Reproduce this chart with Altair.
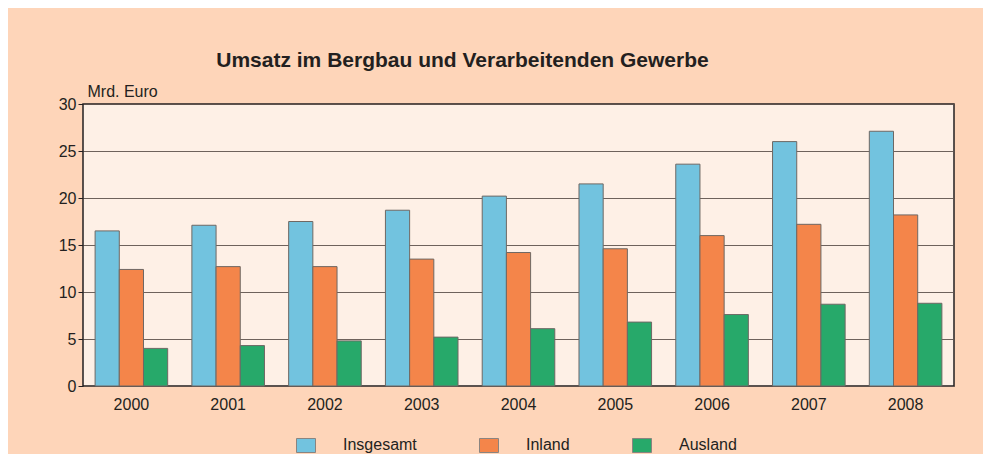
import altair as alt
import pandas as pd

years = ["2000", "2001", "2002", "2003", "2004", "2005", "2006", "2007", "2008"]
series = ["Insgesamt", "Inland", "Ausland"]
insgesamt = [16.5, 17.1, 17.5, 18.7, 20.2, 21.5, 23.6, 26.0, 27.1]
inland = [12.4, 12.7, 12.7, 13.5, 14.2, 14.6, 16.0, 17.2, 18.2]
ausland = [4.0, 4.3, 4.8, 5.2, 6.1, 6.8, 7.6, 8.7, 8.8]
colors = ["#72C3DF", "#F4854A", "#27A96A"]
y_ticks = [0, 5, 10, 15, 20, 25, 30]

rows = []
for i, yr in enumerate(years):
    for s, vals in zip(series, [insgesamt, inland, ausland]):
        rows.append({"Jahr": yr, "Reihe": s, "Wert": vals[i]})
df = pd.DataFrame(rows)

font = "Liberation Sans"
txt = "#231f20"

chart = alt.Chart(df).mark_bar(stroke="#6e6864", strokeWidth=1).encode(
    x=alt.X("Jahr:N", sort=years,
            scale=alt.Scale(paddingInner=0.25, paddingOuter=0.125),
            axis=alt.Axis(title=None, labelAngle=0, ticks=False, domain=False,
                          labelPadding=10, labelFontSize=16, labelFont=font,
                          labelColor=txt, grid=False)),
    xOffset=alt.XOffset("Reihe:N", sort=series,
                        scale=alt.Scale(paddingInner=0, paddingOuter=0)),
    y=alt.Y("Wert:Q", scale=alt.Scale(domain=[0, 30]),
            axis=alt.Axis(values=y_ticks, title="Mrd. Euro", titleAngle=0,
                          titleX=4, titleY=-8, titleAlign="left",
                          titleBaseline="alphabetic", titleFontSize=16,
                          titleFontWeight="normal", titleFont=font, titleColor=txt,
                          labelFontSize=16, labelFont=font, labelColor=txt,
                          labelPadding=2, tickSize=5, tickColor=txt, domain=False,
                          gridColor="#5e524c", gridWidth=1, gridOpacity=0.9)),
    color=alt.Color("Reihe:N", sort=series,
                    scale=alt.Scale(domain=series, range=colors),
                    legend=alt.Legend(title=None, orient="none", legendX=213, legendY=331,
                                      direction="horizontal",
                                      symbolType="M-1,-0.737 H1 V0.737 H-1 Z",
                                      symbolSize=361, symbolStrokeColor="#8a8480",
                                      symbolStrokeWidth=1, symbolOpacity=1,
                                      labelFontSize=16, labelFont=font, labelColor=txt,
                                      labelOffset=27, columnPadding=60)),
).properties(
    width=871, height=282,
    title=alt.TitleParams("Umsatz im Bergbau und Verarbeitenden Gewerbe",
                          fontSize=21, font=font, fontWeight="bold", color=txt,
                          anchor="middle", dx=-56, offset=12),
    background="#FED5B9",
    padding={"left": 75, "top": 96, "right": 29, "bottom": 68},
    autosize=alt.AutoSizeParams(type="none"),
).configure_view(fill="#FEF0E6", stroke=txt, strokeWidth=1.5)

chart.save("out.html", embed_options={"renderer": "svg", "actions": False})
